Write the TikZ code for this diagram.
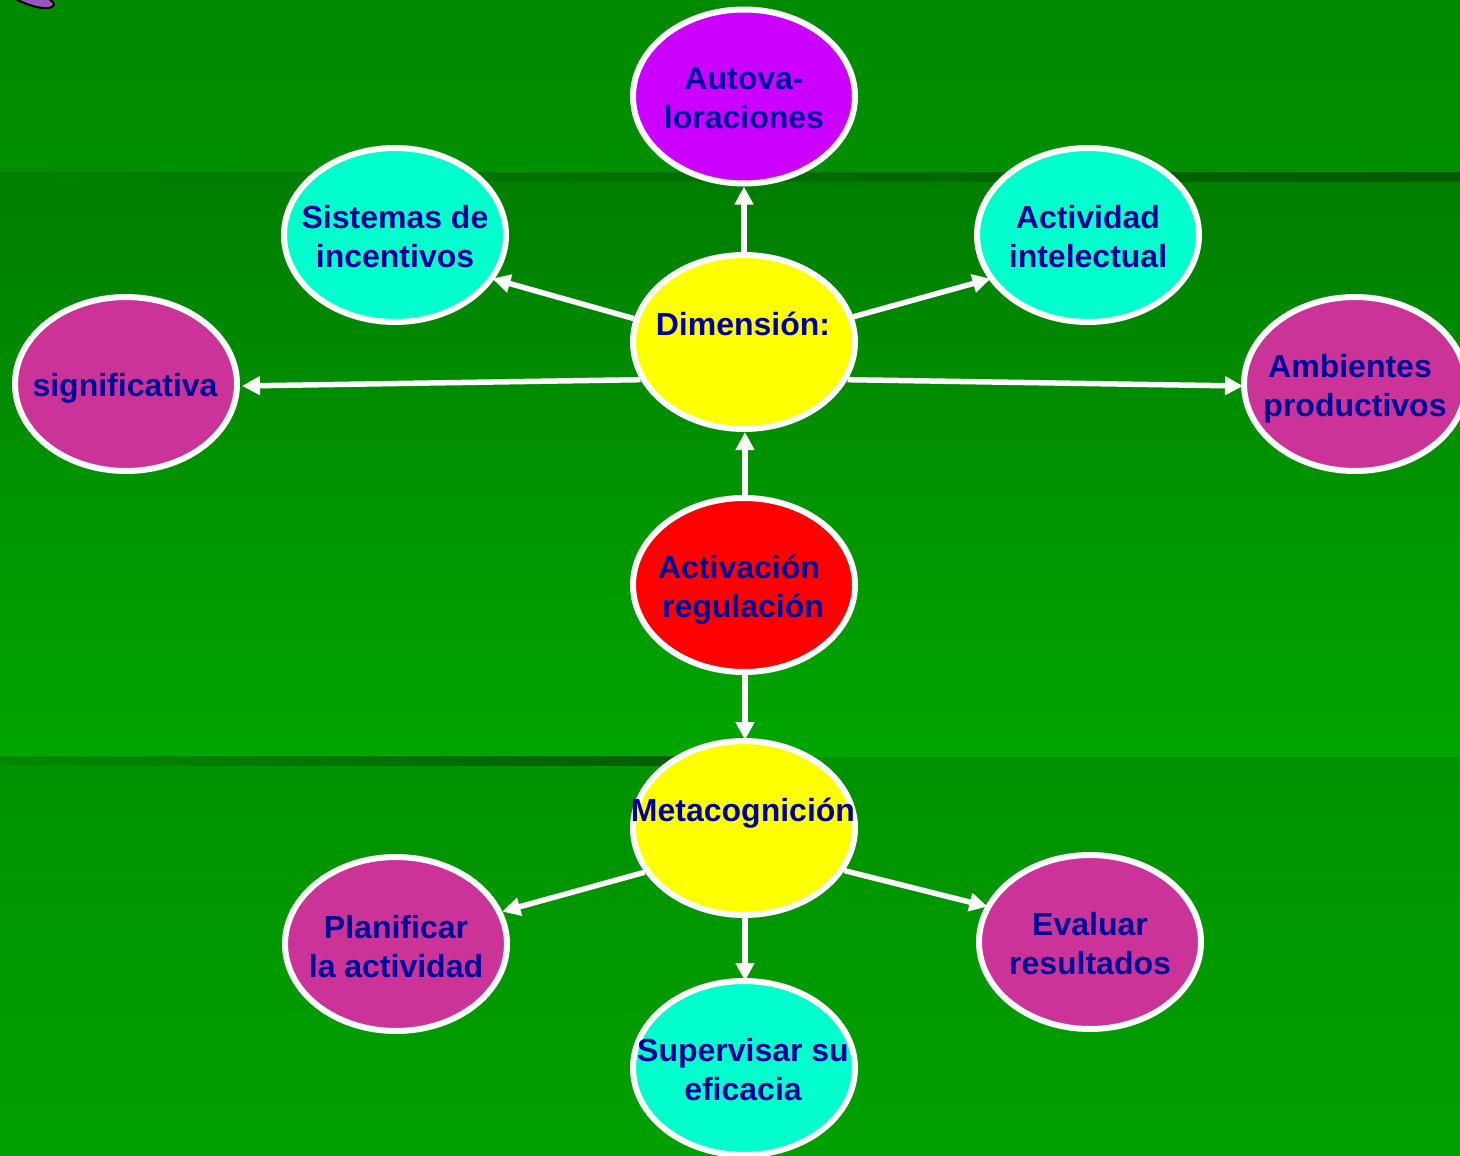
\documentclass[tikz,border=0pt]{standalone}
\usepackage{fontspec}
\setmainfont{Liberation Sans}
\usetikzlibrary{shapes.geometric,arrows.meta}
\definecolor{ink}{RGB}{0,0,153}
\definecolor{cyanfill}{RGB}{0,255,204}
\definecolor{magentafill}{RGB}{204,51,153}
\definecolor{violetfill}{RGB}{204,0,255}
\definecolor{yellowfill}{RGB}{255,255,0}
\definecolor{redfill}{RGB}{255,0,0}
\tikzset{
  oval/.style={ellipse,draw=white,line width=6pt,minimum width=222pt,minimum height=174pt,inner sep=0pt},
  lbl/.style={text=ink,font=\bfseries\fontsize{32}{39}\selectfont,align=center,inner sep=0pt},
  link/.style={draw=white,line width=5.5pt,-{Triangle[length=18pt,width=18pt]}},
}
% vertical gradient painted as strips: y0, y1, green at y0, green at y1
\newcommand{\greenband}[4]{%
  \foreach \yy in {#1,...,#2}{%
    \ifnum\yy<#2\relax
      \pgfmathtruncatemacro{\gg}{#3+(#4-#3)*((\yy-#1)/(#2-#1))}%
      \definecolor{stripcol}{RGB}{0,\gg,0}%
      \fill[stripcol] (0,\yy) rectangle (1460,#2);%
    \fi}}
\begin{document}
\begin{tikzpicture}[x=1pt,y=-1pt]
\useasboundingbox (0,0) rectangle (1460,1156);
\clip (0,0) rectangle (1460,1156);
% background bands
\greenband{0}{172}{138}{144}
\greenband{172}{757}{126}{166}
\greenband{757}{1156}{146}{160}
\shade[left color={rgb,255:red,0;green,130;blue,0},right color={rgb,255:red,0;green,90;blue,0}] (0,172) rectangle (1460,181);
\shade[left color={rgb,255:red,0;green,138;blue,0},right color={rgb,255:red,0;green,94;blue,0}] (0,756) rectangle (680,765);
% purple shape
\draw[draw=black,fill={rgb,255:red,153;green,85;blue,192},line width=2pt] (10,-4) .. controls (22,3) and (38,9) .. (48,8) .. controls (55,7) and (56,3) .. (50,0) -- (48,-4) -- cycle;
% ovals
\node[oval,fill=violetfill] (auto) at (744,96.5) {};
\node[oval,fill=cyanfill] (sis) at (395,235) {};
\node[oval,fill=cyanfill] (act) at (1088,235) {};
\node[oval,fill=yellowfill] (dim) at (744,342) {};
\node[oval,fill=magentafill] (sig) at (126,384) {};
\node[oval,fill=magentafill] (amb) at (1355,384) {};
\node[oval,fill=redfill] (reg) at (744,585) {};
\node[oval,fill=yellowfill] (met) at (744,828) {};
\node[oval,fill=magentafill] (pla) at (396,944) {};
\node[oval,fill=magentafill] (eva) at (1090,942) {};
\node[oval,fill=cyanfill] (sup) at (744,1068) {};
% labels
\node[lbl] (t1) at (744,98) {Autova-\\loraciones};
\node[lbl] (t2) at (395,236.5) {Sistemas de\\incentivos};
\node[lbl] (t3) at (1088,236.5) {Actividad\\intelectual};
\node[lbl] (t4) at (743,324) {Dimensión:};
\node[lbl] (t5) at (125,388) {significativa};
\node[lbl] (t6) at (1355,388.5) {\mbox{Ambientes\kern10pt}\\productivos};
\node[lbl] (t7) at (743,590) {\mbox{Activación\kern8pt}\\regulación};
\node[lbl] (t8) at (743,813) {Metacognición};
\node[lbl] (t9) at (396,946.5) {Planificar\\la actividad};
\node[lbl] (t10) at (1090,944) {Evaluar\\resultados};
\node[lbl] (t11) at (743,1069.5) {Supervisar su\\eficacia};
% connectors
\draw[link] (dim.north) -- (auto.south);
\draw[link,shorten >=-2pt] (dim.168) -- (sis.-24);
\draw[link,shorten >=-2pt] (dim.13) -- (act.204);
\draw[link,shorten >=2pt] (dim.200) -- (sig.-1);
\draw[link,shorten >=-2pt] (dim.-20) -- (amb.181);
\draw[link] ([xshift=1pt]reg.north) -- ([xshift=1pt]dim.south);
\draw[link,shorten >=-2pt] ([xshift=1pt]reg.south) -- ([xshift=1pt]met.north);
\draw[link] (met.204) -- (pla.17);
\draw[link,shorten >=-2pt] (met.-23) -- (eva.161);
\draw[link,shorten >=-3pt] ([xshift=1pt]met.south) -- ([xshift=1pt]sup.north);
\end{tikzpicture}
\end{document}
